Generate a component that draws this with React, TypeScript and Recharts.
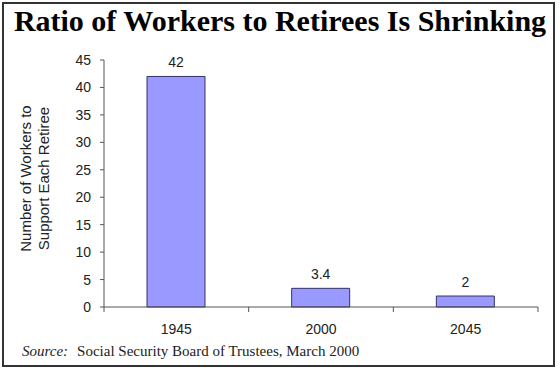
import React from 'react';
import { BarChart, Bar, XAxis, YAxis, LabelList, Label } from 'recharts';

const categories = ['1945', '2000', '2045'];
const workersPerRetiree = [42, 3.4, 2];
const yTicks = [0, 5, 10, 15, 20, 25, 30, 35, 40, 45];
const titleText = 'Ratio of Workers to Retirees Is Shrinking';
const yAxisLines = ['Number of Workers to', 'Support Each Retiree'];
const sourceLabel = 'Source:';
const sourceText = 'Social Security Board of Trustees, March 2000';

const data = categories.map((c, i) => ({ year: c, value: workersPerRetiree[i] }));

const FONT = '"Liberation Sans", Arial, sans-serif';
const AXIS_COLOR = '#555';
const TEXT_COLOR = '#222';

const XTick = (props: any) => {
  const { x, y, payload, index, visibleTicksCount } = props;
  const half = payload && typeof payload.offset === 'number' ? payload.offset : 72.33;
  const last = index === (visibleTicksCount ?? categories.length) - 1;
  return (
    <g>
      <line x1={x - half} x2={x - half} y1={y} y2={y + 5} stroke={AXIS_COLOR} strokeWidth={1} />
      {last && <line x1={x + half} x2={x + half} y1={y} y2={y + 5} stroke={AXIS_COLOR} strokeWidth={1} />}
      <text x={x} y={y + 27} textAnchor="middle" fontFamily={FONT} fontSize={14} fill={TEXT_COLOR}>
        {payload.value}
      </text>
    </g>
  );
};

const YLabel = (props: any) => {
  const vb = props.viewBox || { x: 0, y: 0, width: 0, height: 0 };
  const cy = vb.y + vb.height / 2 - 5;
  const xs = [31, 49];
  return (
    <g>
      {yAxisLines.map((line, i) => (
        <text
          key={i}
          x={xs[i]}
          y={cy}
          transform={`rotate(-90 ${xs[i]} ${cy})`}
          textAnchor="middle"
          fontFamily={FONT}
          fontSize={15}
          fill={TEXT_COLOR}
        >
          {line}
        </text>
      ))}
    </g>
  );
};

export default function App() {
  return (
    <div style={{ position: 'absolute', left: 0, top: 0, width: 560, height: 371, background: '#fff' }}>
      <div
        style={{
          position: 'absolute',
          left: 2,
          top: 2,
          width: 553,
          height: 365,
          border: '2px solid #333',
          boxSizing: 'border-box',
        }}
      />
      <div
        style={{
          position: 'absolute',
          left: 0,
          top: 3,
          width: 560,
          textAlign: 'center',
          fontFamily: '"Liberation Serif", "Times New Roman", serif',
          fontWeight: 'bold',
          fontSize: 30,
          lineHeight: '36px',
          color: '#000',
          whiteSpace: 'nowrap',
        }}
      >
        {titleText}
      </div>
      <div style={{ position: 'absolute', left: 0, top: 0 }}>
        <BarChart width={560} height={371} data={data} margin={{ top: 60, right: 22, left: 44, bottom: 34 }}>
          <XAxis
            dataKey="year"
            height={30}
            tickLine={false}
            tickSize={0}
            tickMargin={0}
            axisLine={{ stroke: AXIS_COLOR }}
            tick={<XTick />}
            interval={0}
          />
          <YAxis
            width={60}
            domain={[0, 45]}
            ticks={yTicks}
            interval={0}
            tickSize={4}
            tickMargin={9}
            axisLine={{ stroke: AXIS_COLOR }}
            tickLine={{ stroke: AXIS_COLOR }}
            tick={{ fontFamily: FONT, fontSize: 14, fill: TEXT_COLOR }}
          >
            <Label content={<YLabel />} />
          </YAxis>
          <Bar dataKey="value" fill="#9999ff" stroke="#333366" strokeWidth={1} barSize={58} isAnimationActive={false}>
            <LabelList dataKey="value" position="top" offset={9} fontFamily={FONT} fontSize={14} fill={TEXT_COLOR} />
          </Bar>
        </BarChart>
      </div>
      <div
        style={{
          position: 'absolute',
          left: 22,
          top: 342,
          fontFamily: '"Liberation Serif", "Times New Roman", serif',
          fontSize: 15,
          lineHeight: '19px',
          color: '#222',
          whiteSpace: 'nowrap',
        }}
      >
        <span style={{ fontStyle: 'italic' }}>{sourceLabel}</span>
        <span style={{ marginLeft: 9 }}>{sourceText}</span>
      </div>
    </div>
  );
}
